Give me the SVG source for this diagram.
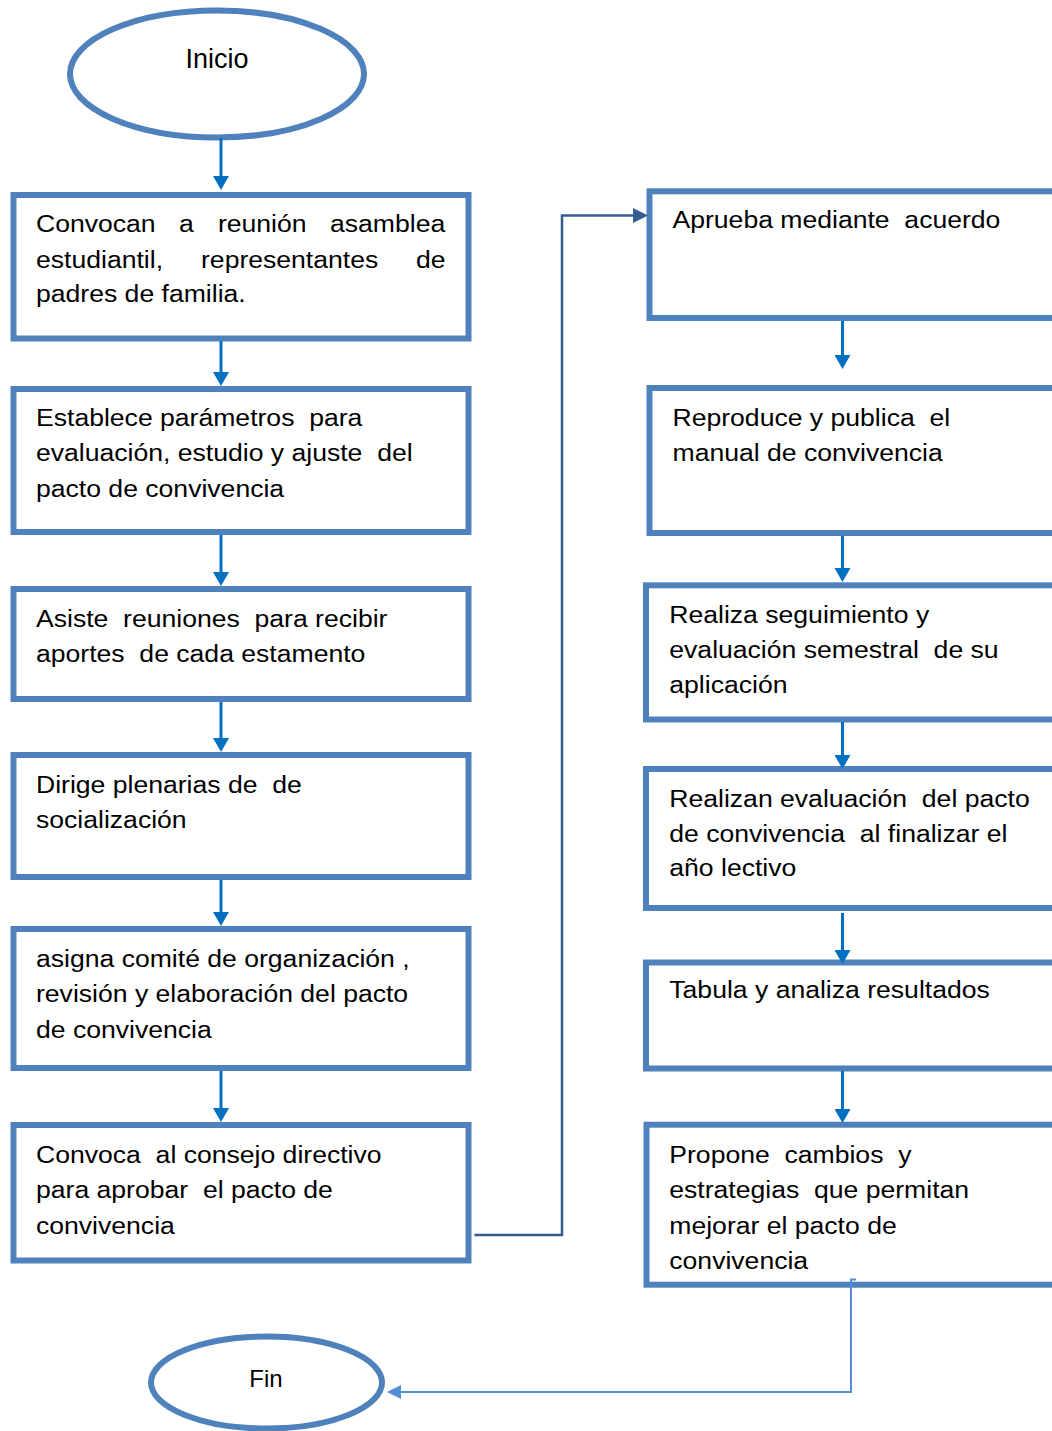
<svg xmlns="http://www.w3.org/2000/svg" width="1052" height="1431" viewBox="0 0 1052 1431">
<style>
.box{fill:#fff;stroke:#4F81BD;stroke-width:6}
.term{fill:#fff;stroke:#4F81BD;stroke-width:6}
.t{font-family:"Liberation Sans",Arial,sans-serif;font-size:24.5px;fill:#000;white-space:pre}
.tt{font-family:"Liberation Sans",Arial,sans-serif;fill:#000;text-anchor:middle}
.flow{fill:none;stroke:#0070C0;stroke-width:3}
.elbow{fill:none;stroke:#345C93;stroke-width:2.5}
.endc{fill:none;stroke:#558ED5;stroke-width:2}
</style>
<defs>
<marker id="ab" markerUnits="userSpaceOnUse" markerWidth="14" markerHeight="16" viewBox="0 0 14 16" refX="0" refY="8" orient="auto"><path d="M0,0 L14,8 L0,16 z" fill="#0070C0"/></marker>
<marker id="ad" markerUnits="userSpaceOnUse" markerWidth="15" markerHeight="15" viewBox="0 0 15 15" refX="0" refY="7.5" orient="auto"><path d="M0,0 L15,7.5 L0,15 z" fill="#345C93"/></marker>
<marker id="al" markerUnits="userSpaceOnUse" markerWidth="14" markerHeight="14" viewBox="0 0 14 14" refX="0" refY="7" orient="auto"><path d="M0,0 L14,7 L0,14 z" fill="#558ED5"/></marker>
</defs>

<g id="inicio">
<ellipse class="term" cx="217" cy="74" rx="147" ry="63.5"/>
<text class="tt" x="217" y="67.7" font-size="27">Inicio</text>
</g>

<g id="n1">
<rect class="box" x="13.5" y="195" width="455" height="143.5"/>
<text class="t" transform="matrix(1.085 0 0 1 36 232.3)"><tspan x="0">Convocan</tspan><tspan x="131.8">a</tspan><tspan x="167.7">reunión</tspan><tspan x="271">asamblea</tspan><tspan x="0" y="35.3">estudiantil,</tspan><tspan x="152.1" y="35.3">representantes</tspan><tspan x="350.2" y="35.3">de</tspan><tspan x="0" y="70.2">padres de familia.</tspan></text>
</g>

<g id="n2">
<rect class="box" x="13.5" y="389" width="455" height="143"/>
<text class="t" transform="matrix(1.085 0 0 1 36 426)"><tspan x="0" y="0">Establece parámetros  para</tspan><tspan x="0" y="35.3">evaluación, estudio y ajuste  del</tspan><tspan x="0" y="70.6">pacto de convivencia</tspan></text>
</g>

<g id="n3">
<rect class="box" x="13.5" y="589" width="455" height="110"/>
<text class="t" transform="matrix(1.085 0 0 1 36 626.7)"><tspan x="0" y="0">Asiste  reuniones  para recibir</tspan><tspan x="0" y="35">aportes  de cada estamento</tspan></text>
</g>

<g id="n4">
<rect class="box" x="13.5" y="755" width="455" height="122"/>
<text class="t" transform="matrix(1.085 0 0 1 36 792.7)"><tspan x="0" y="0">Dirige plenarias de  de</tspan><tspan x="0" y="35">socialización</tspan></text>
</g>

<g id="n5">
<rect class="box" x="13.5" y="929" width="455" height="139"/>
<text class="t" transform="matrix(1.085 0 0 1 36 967)"><tspan x="0" y="0">asigna comité de organización ,</tspan><tspan x="0" y="35.3">revisión y elaboración del pacto</tspan><tspan x="0" y="70.6">de convivencia</tspan></text>
</g>

<g id="n6">
<rect class="box" x="13.5" y="1125" width="455" height="135.5"/>
<text class="t" transform="matrix(1.085 0 0 1 36 1163)"><tspan x="0" y="0">Convoca  al consejo directivo</tspan><tspan x="0" y="35.3">para aprobar  el pacto de</tspan><tspan x="0" y="70.6">convivencia</tspan></text>
</g>

<g id="r1">
<rect class="box" x="649.5" y="191.3" width="440" height="126.7"/>
<text class="t" transform="matrix(1.085 0 0 1 672.5 228.3)"><tspan x="0" y="0">Aprueba mediante  acuerdo</tspan></text>
</g>

<g id="r2">
<rect class="box" x="649.5" y="388" width="440" height="145"/>
<text class="t" transform="matrix(1.085 0 0 1 672.5 426)"><tspan x="0" y="0">Reproduce y publica  el</tspan><tspan x="0" y="35">manual de convivencia</tspan></text>
</g>

<g id="r3">
<rect class="box" x="646" y="585.3" width="440" height="134.2"/>
<text class="t" transform="matrix(1.085 0 0 1 669.3 623)"><tspan x="0" y="0">Realiza seguimiento y</tspan><tspan x="0" y="35">evaluación semestral  de su</tspan><tspan x="0" y="70.5">aplicación</tspan></text>
</g>

<g id="r4">
<rect class="box" x="646" y="769" width="440" height="139"/>
<text class="t" transform="matrix(1.085 0 0 1 669.3 806.5)"><tspan x="0" y="0">Realizan evaluación  del pacto</tspan><tspan x="0" y="35.2">de convivencia  al finalizar el</tspan><tspan x="0" y="70">año lectivo</tspan></text>
</g>

<g id="r5">
<rect class="box" x="646" y="962.5" width="440" height="106"/>
<text class="t" transform="matrix(1.085 0 0 1 669.3 998)"><tspan x="0" y="0">Tabula y analiza resultados</tspan></text>
</g>

<g id="r6">
<rect class="box" x="646.5" y="1124.7" width="440" height="160"/>
<text class="t" transform="matrix(1.085 0 0 1 669.3 1163)"><tspan x="0" y="0">Propone  cambios  y</tspan><tspan x="0" y="35.3">estrategias  que permitan</tspan><tspan x="0" y="70.6">mejorar el pacto de</tspan><tspan x="0" y="105.9">convivencia</tspan></text>
</g>

<g id="fin">
<ellipse class="term" cx="266.5" cy="1382.5" rx="115.5" ry="46"/>
<text class="tt" x="266" y="1387.3" font-size="24">Fin</text>
</g>

<g id="connectors">
<path class="flow" d="M221,138 V176" marker-end="url(#ab)"/>
<path class="flow" d="M221,341 V372" marker-end="url(#ab)"/>
<path class="flow" d="M221,535 V572" marker-end="url(#ab)"/>
<path class="flow" d="M221,702 V738" marker-end="url(#ab)"/>
<path class="flow" d="M221,880 V912" marker-end="url(#ab)"/>
<path class="flow" d="M221,1071 V1108" marker-end="url(#ab)"/>
<path class="flow" d="M842.5,321 V355" marker-end="url(#ab)"/>
<path class="flow" d="M842.5,536 V568" marker-end="url(#ab)"/>
<path class="flow" d="M842.5,722 V755" marker-end="url(#ab)"/>
<path class="flow" d="M842.5,913 V950" marker-end="url(#ab)"/>
<path class="flow" d="M842.5,1071 V1109" marker-end="url(#ab)"/>
<path class="elbow" d="M474.5,1235 H562 V215.5 H633" marker-end="url(#ad)"/>
<path class="endc" d="M856,1279.5 H851 V1392 H401" marker-end="url(#al)"/>
</g>
</svg>
